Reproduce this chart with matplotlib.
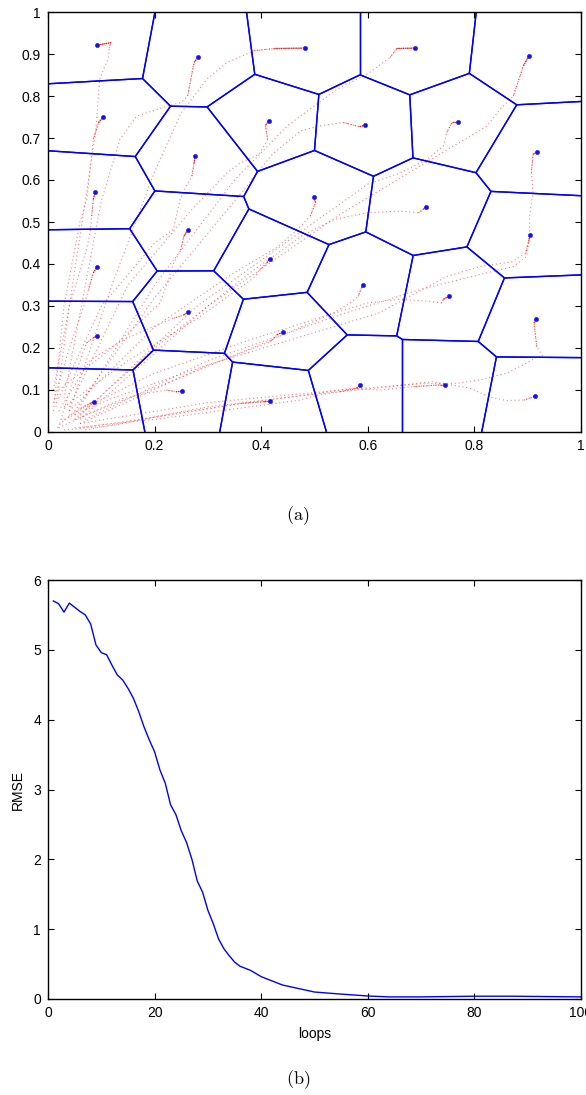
import numpy as np
import matplotlib
matplotlib.use('Agg')
import matplotlib.pyplot as plt
from matplotlib.collections import LineCollection
from matplotlib.ticker import FuncFormatter

plt.rcParams['font.family'] = ['Liberation Sans', 'DejaVu Sans']
plt.rcParams['mathtext.fontset'] = 'cm'

# final robot positions (Voronoi generators), panel (a)
final_x = [0.092, 0.282, 0.483, 0.688, 0.902, 0.104, 0.414, 0.594, 0.769, 0.917,
           0.276, 0.089, 0.499, 0.709, 0.262, 0.905, 0.092, 0.416, 0.263, 0.591,
           0.752, 0.440, 0.915, 0.091, 0.252, 0.585, 0.745, 0.913, 0.086, 0.417]
final_y = [0.921, 0.893, 0.914, 0.914, 0.895, 0.751, 0.741, 0.730, 0.737, 0.667,
           0.656, 0.572, 0.559, 0.536, 0.481, 0.469, 0.394, 0.412, 0.286, 0.349,
           0.323, 0.237, 0.270, 0.228, 0.097, 0.112, 0.112, 0.086, 0.072, 0.073]

# trajectory waypoints (final point is appended from final_x/y)
paths = [
    [(0.015, 0.06), (0.04, 0.30), (0.07, 0.55), (0.09, 0.72), (0.097, 0.84), (0.113, 0.89), (0.115, 0.915), (0.118, 0.927)],
    [(0.03, 0.08), (0.07, 0.35), (0.10, 0.55), (0.135, 0.697), (0.166, 0.752), (0.224, 0.776), (0.25, 0.785), (0.262, 0.80), (0.274, 0.88)],
    [(0.04, 0.05), (0.12, 0.35), (0.20, 0.62), (0.25, 0.76), (0.298, 0.84), (0.336, 0.88), (0.387, 0.908), (0.425, 0.913)],
    [(0.05, 0.04), (0.20, 0.35), (0.35, 0.60), (0.45, 0.73), (0.542, 0.816), (0.599, 0.852), (0.642, 0.892), (0.654, 0.913)],
    [(0.06, 0.03), (0.30, 0.30), (0.55, 0.52), (0.72, 0.65), (0.824, 0.729), (0.848, 0.768), (0.873, 0.80), (0.892, 0.872)],
    [(0.01, 0.05), (0.03, 0.30), (0.06, 0.50), (0.073, 0.554), (0.085, 0.697), (0.095, 0.737)],
    [(0.04, 0.06), (0.15, 0.35), (0.27, 0.53), (0.336, 0.617), (0.361, 0.641), (0.396, 0.661), (0.412, 0.697), (0.408, 0.73)],
    [(0.05, 0.05), (0.20, 0.32), (0.35, 0.55), (0.42, 0.66), (0.474, 0.717), (0.511, 0.729), (0.554, 0.737), (0.585, 0.727)],
    [(0.06, 0.04), (0.28, 0.30), (0.50, 0.50), (0.60, 0.59), (0.661, 0.617), (0.711, 0.649), (0.742, 0.681), (0.748, 0.713), (0.758, 0.737)],
    [(0.07, 0.03), (0.30, 0.17), (0.55, 0.28), (0.70, 0.34), (0.836, 0.383), (0.873, 0.394), (0.898, 0.418), (0.903, 0.46), (0.904, 0.52), (0.91, 0.57), (0.907, 0.617), (0.91, 0.661)],
    [(0.02, 0.08), (0.10, 0.30), (0.20, 0.45), (0.235, 0.482), (0.248, 0.554), (0.26, 0.588), (0.27, 0.609), (0.274, 0.64)],
    [(0.01, 0.10), (0.04, 0.30), (0.072, 0.434), (0.079, 0.474), (0.082, 0.514), (0.085, 0.554)],
    [(0.04, 0.05), (0.20, 0.25), (0.35, 0.38), (0.43, 0.44), (0.468, 0.482), (0.492, 0.514), (0.502, 0.546)],
    [(0.05, 0.03), (0.20, 0.20), (0.38, 0.38), (0.48, 0.47), (0.537, 0.506), (0.599, 0.522), (0.661, 0.526), (0.695, 0.522), (0.704, 0.53)],
    [(0.02, 0.10), (0.12, 0.20), (0.21, 0.307), (0.224, 0.355), (0.236, 0.403), (0.249, 0.434), (0.255, 0.466)],
    [(0.06, 0.02), (0.30, 0.16), (0.62, 0.283), (0.748, 0.37), (0.81, 0.394), (0.87, 0.405), (0.896, 0.425), (0.902, 0.455)],
    [(0.01, 0.07), (0.04, 0.20), (0.067, 0.299), (0.076, 0.339), (0.085, 0.379)],
    [(0.03, 0.06), (0.15, 0.17), (0.28, 0.27), (0.355, 0.339), (0.386, 0.367), (0.398, 0.387), (0.411, 0.403)],
    [(0.02, 0.05), (0.08, 0.172), (0.142, 0.22), (0.198, 0.251), (0.236, 0.271), (0.255, 0.279)],
    [(0.04, 0.04), (0.20, 0.14), (0.38, 0.22), (0.48, 0.26), (0.535, 0.283), (0.567, 0.307), (0.582, 0.323), (0.588, 0.343)],
    [(0.05, 0.03), (0.25, 0.13), (0.42, 0.22), (0.53, 0.28), (0.598, 0.307), (0.66, 0.316), (0.717, 0.311), (0.738, 0.307), (0.742, 0.316)],
    [(0.03, 0.03), (0.12, 0.08), (0.236, 0.132), (0.33, 0.172), (0.386, 0.20), (0.417, 0.215), (0.43, 0.232)],
    [(0.06, 0.02), (0.30, 0.07), (0.55, 0.10), (0.70, 0.115), (0.767, 0.116), (0.81, 0.124), (0.86, 0.14), (0.898, 0.164), (0.917, 0.178), (0.928, 0.181), (0.917, 0.203), (0.912, 0.259)],
    [(0.022, 0.02), (0.047, 0.124), (0.061, 0.172), (0.072, 0.212), (0.085, 0.224)],
    [(0.02, 0.01), (0.079, 0.045), (0.141, 0.08), (0.185, 0.092), (0.222, 0.10), (0.24, 0.096)],
    [(0.05, 0.01), (0.20, 0.03), (0.35, 0.055), (0.473, 0.076), (0.505, 0.088), (0.548, 0.096), (0.579, 0.104)],
    [(0.06, 0.01), (0.20, 0.035), (0.35, 0.065), (0.505, 0.092), (0.567, 0.104), (0.623, 0.10), (0.686, 0.108), (0.735, 0.112)],
    [(0.07, 0.005), (0.30, 0.06), (0.50, 0.09), (0.62, 0.105), (0.72, 0.12), (0.79, 0.105), (0.83, 0.083), (0.86, 0.075), (0.893, 0.076), (0.91, 0.083)],
    [(0.018, 0.009), (0.024, 0.021), (0.042, 0.04), (0.061, 0.056), (0.079, 0.068)],
    [(0.03, 0.005), (0.12, 0.015), (0.175, 0.029), (0.236, 0.044), (0.298, 0.056), (0.361, 0.068), (0.404, 0.072)],
]

# panel (b): RMSE per loop
loops = [1, 2, 3, 4, 5, 6, 7, 8, 9, 10, 11, 12, 13, 14, 15, 16, 17, 18, 19, 20,
         21, 22, 23, 24, 25, 26, 27, 28, 29, 30, 31, 32, 33, 34, 35, 36, 38, 40,
         42, 44, 47, 50, 54, 60, 64, 70, 80, 87, 100]
rmse = [5.70, 5.66, 5.54, 5.67, 5.61, 5.55, 5.50, 5.37, 5.07, 4.96, 4.93, 4.78,
        4.64, 4.57, 4.45, 4.31, 4.12, 3.90, 3.71, 3.54, 3.28, 3.09, 2.78, 2.64,
        2.41, 2.24, 2.00, 1.69, 1.53, 1.27, 1.08, 0.86, 0.72, 0.62, 0.53, 0.47,
        0.41, 0.32, 0.26, 0.20, 0.15, 0.10, 0.076, 0.043, 0.03, 0.03, 0.04, 0.04, 0.03]


def voronoi_segments(px, py):
    """Bounded Voronoi edges in the unit square via half-plane clipping."""
    pts = np.column_stack([px, py])
    segs = []
    for i, p in enumerate(pts):
        poly = [np.array(v, float) for v in [(0, 0), (1, 0), (1, 1), (0, 1)]]
        for j, q in enumerate(pts):
            if i == j:
                continue
            d = q - p
            c = d @ ((p + q) / 2)
            out = []
            for k in range(len(poly)):
                a, b = poly[k], poly[(k + 1) % len(poly)]
                fa, fb = d @ a - c, d @ b - c
                if fa <= 0:
                    out.append(a)
                if fa * fb < 0:
                    out.append(a + fa / (fa - fb) * (b - a))
            poly = out
        for k in range(len(poly)):
            a, b = poly[k], poly[(k + 1) % len(poly)]
            on_edge = any(abs(a[m] - v) < 1e-9 and abs(b[m] - v) < 1e-9
                          for m in (0, 1) for v in (0, 1))
            if not on_edge:
                segs.append([a, b])
    return segs


def style(ax):
    ax.tick_params(direction='in', top=True, right=True, length=4,
                   labelsize=10, width=0.8, pad=5)
    for s in ax.spines.values():
        s.set_linewidth(1.0)
    ax.xaxis.set_major_formatter(FuncFormatter(lambda v, _: '%g' % v))
    ax.yaxis.set_major_formatter(FuncFormatter(lambda v, _: '%g' % v))


fig = plt.figure(figsize=(5.86, 10.95), dpi=100)

ax1 = fig.add_axes([48 / 586, 1 - 432 / 1095, 533 / 586, 420 / 1095])
for k, path in enumerate(paths):
    xs = [p[0] for p in path] + [final_x[k]]
    ys = [p[1] for p in path] + [final_y[k]]
    # sparse dotted trail, denser dots near the end of each trajectory
    ax1.plot(xs, ys, color='red', lw=0.8, alpha=0.5, linestyle=(0, (1, 2.5)))
    ax1.plot(xs[-3:], ys[-3:], color='red', lw=0.8, alpha=0.6, linestyle=(0, (1, 1.2)))
    ax1.plot(xs[-2:], ys[-2:], color='red', lw=0.9, alpha=0.85, linestyle=(0, (1, 0.6)))
ax1.add_collection(LineCollection(voronoi_segments(final_x, final_y),
                                  colors='#0000ff', linewidths=1.0))
ax1.plot(final_x, final_y, 'o', color='#1010ee', ms=3, mec='#3030ff', mew=0.5)
ax1.set_xlim(0, 1)
ax1.set_ylim(0, 1)
ax1.set_xticks(np.arange(0, 1.01, 0.2))
ax1.set_yticks(np.arange(0, 1.01, 0.1))
style(ax1)

ax2 = fig.add_axes([48 / 586, 1 - 999 / 1095, 533 / 586, 419 / 1095])
ax2.plot(loops, rmse, color='#0000ff', lw=1.0)
ax2.set_xlim(0, 100)
ax2.set_ylim(0, 6)
ax2.set_xticks(np.arange(0, 101, 20))
ax2.set_yticks(np.arange(0, 7, 1))
style(ax2)
ax2.set_xlabel('loops', fontsize=10, labelpad=5)
ax2.set_ylabel('RMSE', fontsize=10, labelpad=6)

fig.text(298 / 586, 1 - 516 / 1095, r'$\mathrm{(a)}$', ha='center', va='center', fontsize=13)
fig.text(298 / 586, 1 - 1080 / 1095, r'$\mathrm{(b)}$', ha='center', va='center', fontsize=13)

fig.savefig('out.png', dpi=100)
